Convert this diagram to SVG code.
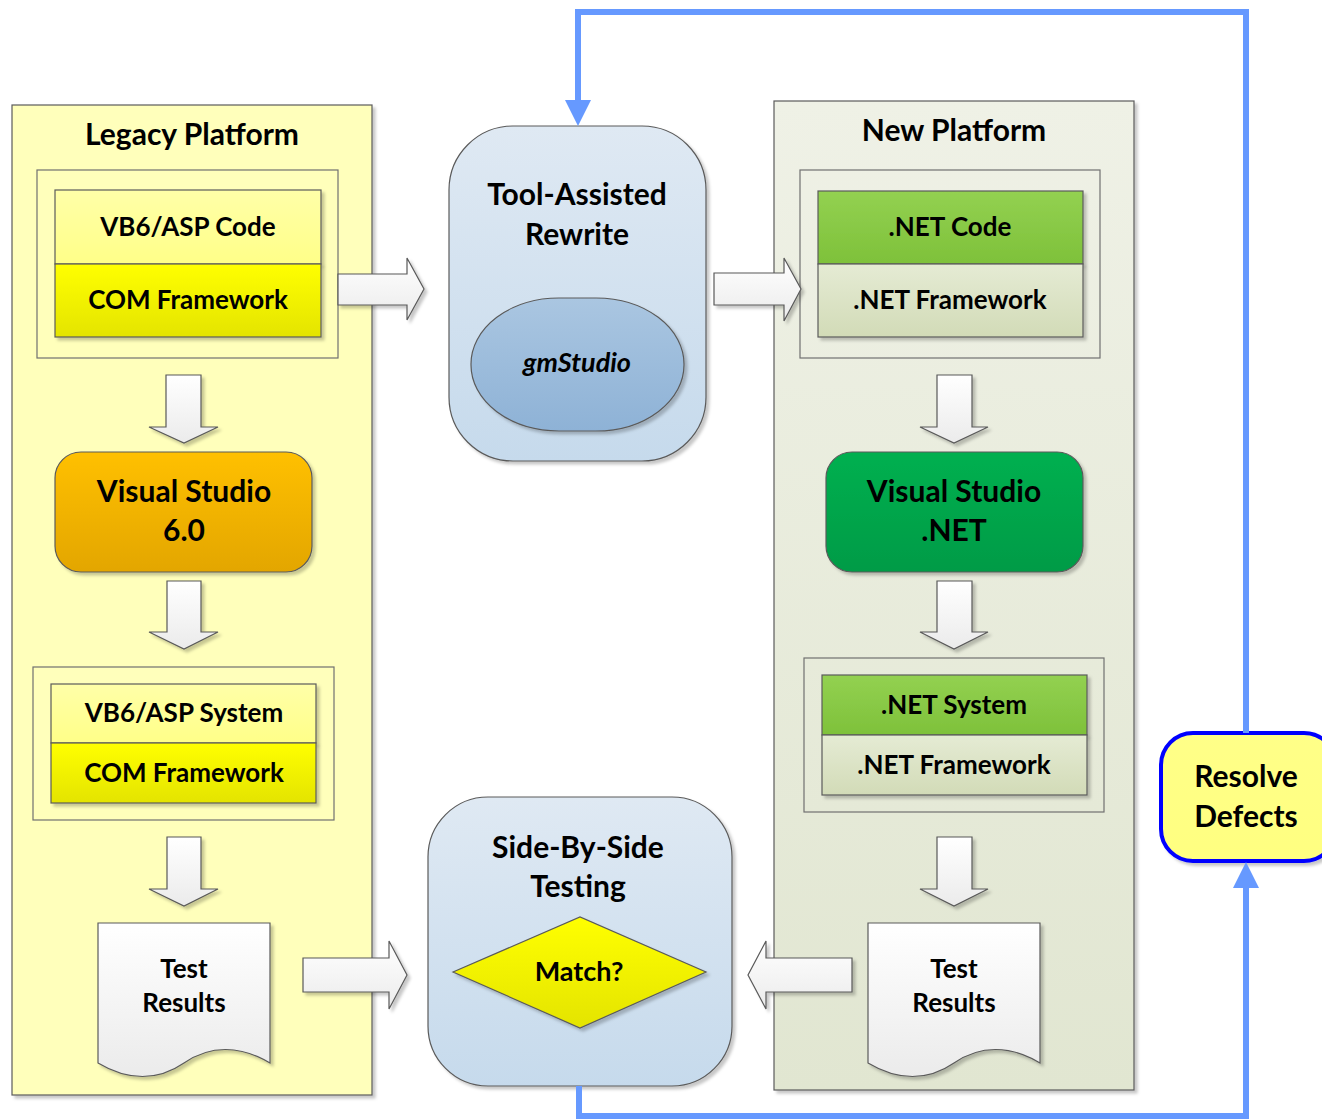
<svg xmlns="http://www.w3.org/2000/svg" width="1322" height="1119" viewBox="0 0 1322 1119">
<defs>
  <filter id="sh" x="-10%" y="-10%" width="130%" height="130%">
    <feDropShadow dx="3" dy="3" stdDeviation="1.5" flood-color="#000" flood-opacity="0.22"/>
  </filter>
  <linearGradient id="gNew" x1="0" y1="0" x2="0" y2="1"><stop offset="0" stop-color="#eff1e6"/><stop offset="1" stop-color="#e1e6d1"/></linearGradient>
  <linearGradient id="gYL" x1="0" y1="0" x2="0" y2="1"><stop offset="0" stop-color="#ffffa8"/><stop offset="1" stop-color="#ffff88"/></linearGradient>
  <linearGradient id="gY" x1="0" y1="0" x2="0" y2="1"><stop offset="0" stop-color="#ffff00"/><stop offset="1" stop-color="#e4e400"/></linearGradient>
  <linearGradient id="gOr" x1="0" y1="0" x2="0" y2="1"><stop offset="0" stop-color="#ffc000"/><stop offset="1" stop-color="#e3a600"/></linearGradient>
  <linearGradient id="gGL" x1="0" y1="0" x2="0" y2="1"><stop offset="0" stop-color="#93d151"/><stop offset="1" stop-color="#7ec13a"/></linearGradient>
  <linearGradient id="gGG" x1="0" y1="0" x2="0" y2="1"><stop offset="0" stop-color="#e5ebd4"/><stop offset="1" stop-color="#d2dbb7"/></linearGradient>
  <linearGradient id="gGD" x1="0" y1="0" x2="0" y2="1"><stop offset="0" stop-color="#00b050"/><stop offset="1" stop-color="#009b46"/></linearGradient>
  <linearGradient id="gBl" x1="0" y1="0" x2="0" y2="1"><stop offset="0" stop-color="#dfe9f3"/><stop offset="1" stop-color="#c6daec"/></linearGradient>
  <linearGradient id="gEl" x1="0" y1="0" x2="0" y2="1"><stop offset="0" stop-color="#aac6e1"/><stop offset="1" stop-color="#8eb2d6"/></linearGradient>
  <linearGradient id="gAr" x1="0" y1="0" x2="0" y2="1"><stop offset="0" stop-color="#ffffff"/><stop offset="1" stop-color="#ebebeb"/></linearGradient>
  <linearGradient id="gRes" x1="0" y1="0" x2="0" y2="1"><stop offset="0" stop-color="#ffff88"/><stop offset="1" stop-color="#ffff80"/></linearGradient>
  <marker id="ah" markerUnits="userSpaceOnUse" markerWidth="26" markerHeight="26" viewBox="0 0 26 26" refX="0" refY="13" orient="auto">
    <path d="M0,0 L26,13 L0,26 Z" fill="#6699ff"/>
  </marker>
</defs>
<style>
  text { font-family: Lato, "Liberation Sans", "DejaVu Sans", sans-serif; font-weight: bold; fill: #000; text-anchor: middle; }
  .t30 { font-size: 30px; }
  .t26 { font-size: 26px; }
  .t27 { font-size: 27px; }
  .ln { stroke: #5a5a5a; stroke-width: 1.2; }
  .frame { fill: none; stroke: #707070; stroke-width: 1.2; }
  .arrow { fill: url(#gAr); stroke: #595959; stroke-width: 1.2; filter: url(#sh); }
  .conn { fill: none; stroke: #6699ff; stroke-width: 6; stroke-linejoin: miter; }
</style>

<g id="legacy-platform">
  <rect x="12" y="105" width="360" height="990" fill="#ffffbb" class="ln" filter="url(#sh)"/>
  <text x="192" y="145" class="t30">Legacy Platform</text>
</g>
<g id="new-platform">
  <rect x="774" y="101" width="360" height="989" fill="url(#gNew)" class="ln" filter="url(#sh)"/>
  <text x="954" y="141" class="t30">New Platform</text>
</g>

<g id="legacy-code-stack">
  <rect x="37" y="170" width="301" height="188" class="frame"/>
  <rect x="55" y="190" width="266" height="74" fill="url(#gYL)" class="ln" filter="url(#sh)"/>
  <rect x="55" y="264" width="266" height="73" fill="url(#gY)" class="ln" filter="url(#sh)"/>
  <text x="188" y="236" class="t26">VB6/ASP Code</text>
  <text x="188" y="309" class="t26">COM Framework</text>
</g>

<g id="vs6">
  <rect x="55" y="452" width="257" height="120" rx="26" fill="url(#gOr)" class="ln" filter="url(#sh)"/>
  <text x="184" y="502" class="t30">Visual Studio</text>
  <text x="184" y="541" class="t30">6.0</text>
</g>

<g id="legacy-system-stack">
  <rect x="33" y="667" width="301" height="153" class="frame"/>
  <rect x="51" y="684" width="265" height="59" fill="url(#gYL)" class="ln" filter="url(#sh)"/>
  <rect x="51" y="743" width="265" height="60" fill="url(#gY)" class="ln" filter="url(#sh)"/>
  <text x="184" y="722" class="t26">VB6/ASP System</text>
  <text x="184" y="782" class="t26">COM Framework</text>
</g>

<g id="legacy-test-results">
  <path d="M98,923 H270 V1063 C240,1045 210,1045 184,1063 C158,1081 128,1081 98,1063 Z" fill="url(#gAr)" class="ln" filter="url(#sh)"/>
  <text x="184" y="978" class="t26">Test</text>
  <text x="184" y="1012" class="t26">Results</text>
</g>

<g id="tool-assisted-rewrite">
  <rect x="449" y="126" width="257" height="335" rx="64" fill="url(#gBl)" class="ln" filter="url(#sh)"/>
  <text x="577" y="205" class="t30">Tool-Assisted</text>
  <text x="577" y="245" class="t30">Rewrite</text>
</g>
<g id="gmstudio">
  <rect x="471" y="298" width="213" height="133" rx="88" ry="66" fill="url(#gEl)" class="ln" filter="url(#sh)"/>
  <text x="577" y="372" class="t27" font-style="italic">gmStudio</text>
</g>

<g id="net-code-stack">
  <rect x="800" y="170" width="300" height="188" class="frame"/>
  <rect x="818" y="191" width="265" height="73" fill="url(#gGL)" class="ln" filter="url(#sh)"/>
  <rect x="818" y="264" width="265" height="73" fill="url(#gGG)" class="ln" filter="url(#sh)"/>
  <text x="950" y="236" class="t26">.NET Code</text>
  <text x="950" y="309" class="t26">.NET Framework</text>
</g>

<g id="vsnet">
  <rect x="826" y="452" width="257" height="120" rx="26" fill="url(#gGD)" class="ln" filter="url(#sh)"/>
  <text x="954" y="502" class="t30">Visual Studio</text>
  <text x="954" y="541" class="t30">.NET</text>
</g>

<g id="net-system-stack">
  <rect x="804" y="658" width="300" height="154" class="frame"/>
  <rect x="822" y="675" width="265" height="60" fill="url(#gGL)" class="ln" filter="url(#sh)"/>
  <rect x="822" y="735" width="265" height="60" fill="url(#gGG)" class="ln" filter="url(#sh)"/>
  <text x="954" y="714" class="t26">.NET System</text>
  <text x="954" y="774" class="t26">.NET Framework</text>
</g>

<g id="net-test-results">
  <path d="M868,923 H1040 V1063 C1010,1045 980,1045 954,1063 C928,1081 898,1081 868,1063 Z" fill="url(#gAr)" class="ln" filter="url(#sh)"/>
  <text x="954" y="978" class="t26">Test</text>
  <text x="954" y="1012" class="t26">Results</text>
</g>

<g id="side-by-side-testing">
  <rect x="428" y="797" width="304" height="289" rx="60" fill="url(#gBl)" class="ln" filter="url(#sh)"/>
  <text x="578" y="858" class="t30">Side-By-Side</text>
  <text x="578" y="897" class="t30">Testing</text>
</g>
<g id="match">
  <path d="M453,972 L580,917 L706,972 L580,1028 Z" fill="url(#gY)" class="ln" filter="url(#sh)"/>
  <text x="579" y="981" class="t27">Match?</text>
</g>

<g id="resolve-defects">
  <rect x="1161" y="733" width="175" height="128" rx="32" fill="url(#gRes)" stroke="#0000ff" stroke-width="4" filter="url(#sh)"/>
  <text x="1246" y="787" class="t30">Resolve</text>
  <text x="1246" y="827" class="t30">Defects</text>
</g>

<g id="connectors">
  <path class="arrow" d="M338,274 H407 V258 L424,289 L407,320 V305 H338 Z"/>
  <path class="arrow" d="M714,273 H784 V258 L801,289 L784,321 V305 H714 Z"/>
  <path class="arrow" d="M303,958 H389 V941 L407,975 L389,1009 V992 H303 Z"/>
  <path class="arrow" d="M852,958 H766 V941 L748,975 L766,1009 V992 H852 Z"/>
  <path class="arrow" d="M166,375 H201 V427 H218 L184,443 L149,427 H166 Z"/>
  <path class="arrow" d="M167,581 H201 V632 H218 L184,649 L149,632 H167 Z"/>
  <path class="arrow" d="M167,837 H201 V889 H218 L184,906 L149,889 H167 Z"/>
  <path class="arrow" d="M937,375 H972 V427 H988 L954,443 L920,427 H937 Z"/>
  <path class="arrow" d="M937,581 H972 V632 H988 L954,649 L920,632 H937 Z"/>
  <path class="arrow" d="M937,837 H972 V889 H988 L954,906 L920,889 H937 Z"/>
  <path class="conn" d="M1246,733 V12 H578 V100" marker-end="url(#ah)"/>
  <path class="conn" d="M579,1086 V1116 H1246 V888" marker-end="url(#ah)"/>
</g>
</svg>
